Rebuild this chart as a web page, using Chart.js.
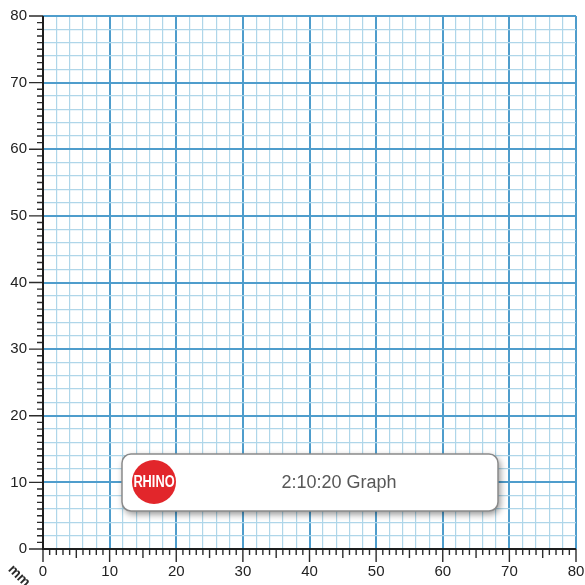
<!DOCTYPE html>
<html>
<head>
<meta charset="utf-8">
<script src="https://cdn.jsdelivr.net/npm/chart.js@4.4.1/dist/chart.umd.min.js"></script>
<style>
  html, body { margin: 0; padding: 0; background: #ffffff; }
  #wrap { width: 585px; height: 585px; position: relative; }
</style>
</head>
<body>
<div id="wrap"><canvas id="paper"></canvas></div>
<script>
// Axis range and labels of the millimetre graph sheet
const axisMin = 0;
const axisMax = 80;
const xTickLabels = [0, 10, 20, 30, 40, 50, 60, 70, 80];
const yTickLabels = [0, 10, 20, 30, 40, 50, 60, 70, 80];
const unitLabel = 'mm';
const brandName = 'RHINO';
const paperTitle = '2:10:20 Graph';
const points = []; // blank sheet: no plotted marks

const labelFont = { family: "'Liberation Sans Narrow', 'Liberation Sans', Arial, sans-serif", size: 15 };

function gridColor(ctx) {
  const v = ctx.tick ? ctx.tick.value : null;
  if (v === null) return 'rgba(0,0,0,0)';
  if (v % 10 === 0) return '#4f9dcc';
  if (v % 2 === 0) return '#afd6e9';
  return 'rgba(0,0,0,0)';
}
function gridWidth(ctx) {
  const v = ctx.tick ? ctx.tick.value : null;
  if (v === null) return 0;
  if (v % 10 === 0) return 2;
  if (v % 2 === 0) return 1.2;
  return 0;
}
function labelFor(list) {
  return function (value) { return list.includes(value) ? String(value) : ''; };
}
function noEdgePadding(scale) {
  scale.paddingTop = 0;
  scale.paddingBottom = 0;
  scale.paddingLeft = 0;
  scale.paddingRight = 0;
}

// Ruler tick marks along both axes, placed from the scales
const rulerTicks = {
  id: 'rulerTicks',
  afterDraw(chart) {
    const ctx = chart.ctx;
    const xs = chart.scales.x, ys = chart.scales.y;
    const area = chart.chartArea;
    ctx.save();
    ctx.strokeStyle = '#2b2b2b';
    ctx.lineWidth = 1.4;
    ctx.beginPath();
    for (let v = axisMin; v <= axisMax; v++) {
      const px = xs.getPixelForValue(v);
      const len = v % 10 === 0 ? 13 : (v % 5 === 0 ? 9 : 6);
      ctx.moveTo(px, area.bottom);
      ctx.lineTo(px, area.bottom + len);
      const py = ys.getPixelForValue(v);
      const ylen = v % 10 === 0 ? 14 : 6;
      ctx.moveTo(area.left, py);
      ctx.lineTo(area.left - ylen, py);
    }
    ctx.stroke();
    // axis lines
    ctx.lineWidth = 2;
    ctx.strokeStyle = '#1e1e1e';
    ctx.beginPath();
    ctx.moveTo(area.left, area.top);
    ctx.lineTo(area.left, area.bottom);
    ctx.lineTo(area.right, area.bottom);
    ctx.stroke();
    // unit label, rotated at the corner
    ctx.translate(19, 576);
    ctx.rotate(Math.PI / 4);
    ctx.fillStyle = '#2b2b2b';
    ctx.font = "bold 14px 'Liberation Sans', Arial, sans-serif";
    ctx.textAlign = 'center';
    ctx.textBaseline = 'middle';
    ctx.fillText(unitLabel, 0, 0);
    ctx.restore();
  }
};

// Title plate with the brand badge
const titlePlate = {
  id: 'titlePlate',
  afterDraw(chart) {
    const ctx = chart.ctx;
    const x = 122, y = 454, w = 376, h = 57, r = 9;
    ctx.save();
    ctx.shadowColor = 'rgba(0,0,0,0.45)';
    ctx.shadowBlur = 7;
    ctx.shadowOffsetX = 2;
    ctx.shadowOffsetY = 3;
    ctx.fillStyle = '#ffffff';
    ctx.beginPath();
    ctx.roundRect(x, y, w, h, r);
    ctx.fill();
    ctx.shadowColor = 'rgba(0,0,0,0)';
    ctx.strokeStyle = '#8a8a8a';
    ctx.lineWidth = 1.5;
    ctx.stroke();
    // badge
    ctx.fillStyle = '#e2262b';
    ctx.beginPath();
    ctx.arc(154, 482, 22, 0, Math.PI * 2);
    ctx.fill();
    ctx.save();
    ctx.translate(154, 483);
    ctx.scale(0.8, 1);
    ctx.fillStyle = '#ffffff';
    ctx.font = "bold 16px 'Liberation Sans', Arial, sans-serif";
    ctx.textAlign = 'center';
    ctx.textBaseline = 'middle';
    ctx.fillText(brandName, 0, 0);
    ctx.restore();
    // title
    ctx.fillStyle = '#575757';
    ctx.font = "18px 'Liberation Sans', Arial, sans-serif";
    ctx.textAlign = 'center';
    ctx.textBaseline = 'middle';
    ctx.fillText(paperTitle, 339, 483);
    ctx.restore();
  }
};

new Chart(document.getElementById('paper'), {
  type: 'scatter',
  data: { datasets: [{ data: points, pointRadius: 0 }] },
  options: {
    responsive: true,
    maintainAspectRatio: false,
    animation: false,
    layout: { padding: { left: 0, top: 16, right: 9, bottom: 0 } },
    plugins: { legend: { display: false }, tooltip: { enabled: false } },
    scales: {
      x: {
        type: 'linear',
        min: axisMin,
        max: axisMax,
        afterFit(scale) { scale.height = 36; noEdgePadding(scale); },
        border: { display: false },
        grid: { color: gridColor, lineWidth: gridWidth, drawTicks: false },
        ticks: {
          stepSize: 1,
          autoSkip: false,
          maxRotation: 0,
          minRotation: 0,
          padding: 14,
          color: '#222222',
          font: labelFont,
          callback: labelFor(xTickLabels)
        }
      },
      y: {
        type: 'linear',
        min: axisMin,
        max: axisMax,
        afterFit(scale) { scale.width = 43; noEdgePadding(scale); },
        border: { display: false },
        grid: { color: gridColor, lineWidth: gridWidth, drawTicks: false },
        ticks: {
          stepSize: 1,
          autoSkip: false,
          padding: 16,
          color: '#222222',
          font: labelFont,
          callback: labelFor(yTickLabels)
        }
      }
    }
  },
  plugins: [rulerTicks, titlePlate]
});
</script>
</body>
</html>
